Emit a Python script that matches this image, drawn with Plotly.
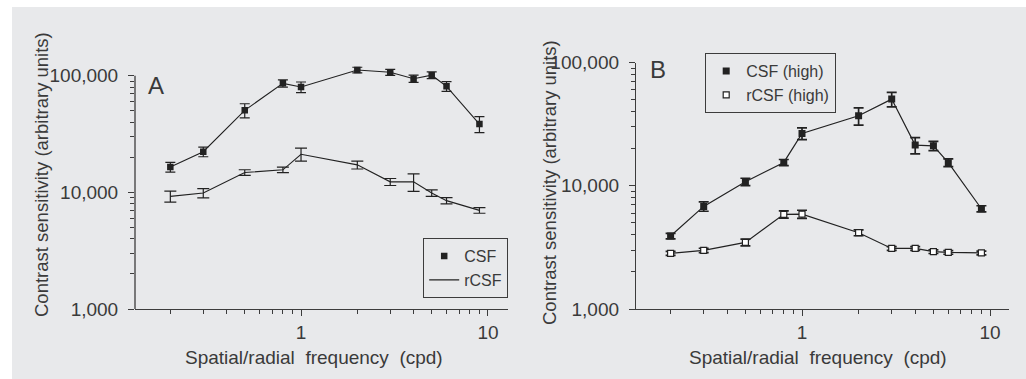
import plotly.graph_objects as go

# ---- data ----
freq = [0.2, 0.3, 0.5, 0.8, 1, 2, 3, 4, 5, 6, 9]

csf_a = [16500, 22300, 50500, 86000, 80000, 112000, 107000, 94300, 101000, 81100, 38500]
csf_a_err = [1600, 2100, 7000, 6200, 8300, 6200, 6300, 6800, 6700, 7700, 6000]
rcsf_a = [9240, 9870, 14800, 15600, 21200, 17200, 12300, 12300, 9870, 8490, 7010]
rcsf_a_err = [1000, 900, 820, 860, 2700, 1350, 850, 2100, 650, 520, 390]

csf_b = [3910, 6800, 10770, 15460, 26570, 36950, 50470, 21370, 21100, 15400, 6510]
csf_b_err = [200, 590, 730, 870, 2900, 5900, 6800, 3200, 1800, 1100, 370]
rcsf_b = [2830, 2990, 3470, 5860, 5880, 4160, 3100, 3100, 2920, 2880, 2850]
rcsf_b_err = [110, 120, 220, 400, 450, 230, 110, 110, 100, 100, 100]

y_tickvals = [1000, 10000, 100000]
y_ticktext = ["1,000", "10,000", "100,000"]
x_tickvals = [1, 10]
x_ticktext = ["1", "10"]

W, H = 1026, 379
FONT = "Liberation Sans"
TXT = "#3a3a3a"
AX = "#3c3c3c"
LINE = "#222222"
BG = "#e8e9eb"
DEC_A = 116.65  # px per decade, panel A

fig = go.Figure()

# ---- Panel A ----
fig.add_trace(go.Scatter(x=freq, y=csf_a, mode="lines", line=dict(color=LINE, width=1.1),
                         showlegend=False, xaxis="x", yaxis="y", hoverinfo="skip"))
fig.add_trace(go.Scatter(x=freq, y=csf_a, mode="markers", name="CSF",
                         marker=dict(symbol="square", size=6.5, color=LINE),
                         error_y=dict(type="data", array=csf_a_err, color=LINE, thickness=1.2, width=5),
                         xaxis="x", yaxis="y", legend="legend"))
fig.add_trace(go.Scatter(x=freq, y=rcsf_a, mode="lines", name="rCSF",
                         line=dict(color=LINE, width=1.1),
                         error_y=dict(type="data", array=rcsf_a_err, color=LINE, thickness=1.2, width=6),
                         xaxis="x", yaxis="y", legend="legend"))

# ---- Panel B ----
fig.add_trace(go.Scatter(x=freq, y=csf_b, mode="lines", line=dict(color=LINE, width=1.2),
                         showlegend=False, xaxis="x2", yaxis="y2", hoverinfo="skip"))
fig.add_trace(go.Scatter(x=freq, y=rcsf_b, mode="lines", line=dict(color=LINE, width=1.2),
                         showlegend=False, xaxis="x2", yaxis="y2", hoverinfo="skip"))
fig.add_trace(go.Scatter(x=freq, y=csf_b, mode="markers", name="CSF (high)",
                         marker=dict(symbol="square", size=7, color=LINE),
                         error_y=dict(type="data", array=csf_b_err, color=LINE, thickness=1.7, width=5),
                         xaxis="x2", yaxis="y2", legend="legend2"))
fig.add_trace(go.Scatter(x=freq, y=rcsf_b, mode="markers", name="rCSF (high)",
                         marker=dict(symbol="square", size=6, color="white", line=dict(color=LINE, width=1.2)),
                         error_y=dict(type="data", array=rcsf_b_err, color=LINE, thickness=1.7, width=5),
                         xaxis="x2", yaxis="y2", legend="legend2"))

def xax(domain, rng):
    return dict(type="log", domain=domain, range=rng, showgrid=False, zeroline=False,
                automargin=False,
                showline=True, linecolor=AX, linewidth=1.3, ticks="outside", ticklen=6,
                tickcolor=AX, tickwidth=1.2, tickvals=x_tickvals, ticktext=x_ticktext,
                tickfont=dict(family=FONT, size=19, color=TXT), ticklabelstandoff=0,
                minor=dict(ticks="outside", ticklen=4, tickcolor=AX, tickwidth=1, dtick="D1"))

def yax(domain, anchor, rng, showline):
    return dict(type="log", domain=domain, range=rng, showgrid=False, zeroline=False,
                automargin=False,
                anchor=anchor, showline=showline, linecolor=AX, linewidth=1.3, ticks="outside",
                ticklen=6, tickcolor=AX, tickwidth=1.2, tickvals=y_tickvals, ticktext=y_ticktext,
                tickfont=dict(family=FONT, size=19, color=TXT), ticklabelstandoff=6,
                minor=dict(ticks="outside", ticklen=4, tickcolor=AX, tickwidth=1, dtick="D1"))

# panel A: range extends a little above 100,000 so the top points show; axis line stops at 100,000
a_top = 5.09
a_dom_top_px = 309 - (a_top - 3) * DEC_A

fig.update_layout(
    width=W, height=H,
    margin=dict(l=0, r=0, t=0, b=0, autoexpand=False),
    paper_bgcolor="white",
    plot_bgcolor="rgba(0,0,0,0)",
    font=dict(family=FONT, size=18, color=TXT),
    xaxis=dict(**xax([135 / W, 508 / W], [-0.888, 1.107]), anchor="y"),
    yaxis=yax([1 - 309 / H, 1 - a_dom_top_px / H], "x", [3, a_top], False),
    xaxis2=dict(**xax([636 / W, 1009 / W], [-0.883, 1.101]), anchor="y2"),
    yaxis2=yax([1 - 309 / H, 1 - 62.5 / H], "x2", [3, 5], True),
    legend=dict(x=508 / W, xanchor="right", y=1 - 238 / H, yanchor="top",
                bgcolor="rgba(0,0,0,0)", bordercolor=AX, borderwidth=1.2,
                font=dict(family=FONT, size=16, color=TXT), tracegroupgap=0),
    legend2=dict(x=705 / W, xanchor="left", y=1 - 53 / H, yanchor="top",
                 bgcolor="rgba(0,0,0,0)", bordercolor=AX, borderwidth=1.2,
                 font=dict(family=FONT, size=16, color=TXT), tracegroupgap=0),
    shapes=[
        dict(type="rect", xref="paper", yref="paper", x0=12 / W, x1=1, y0=0, y1=1 - 7 / H,
             fillcolor=BG, line=dict(width=0), layer="below"),
        dict(type="line", xref="x domain", yref="y", x0=0, x1=0, y0=y_tickvals[0], y1=y_tickvals[-1],
             line=dict(color=AX, width=1.3)),
    ],
    annotations=[
        dict(text="Contrast sensitivity (arbitrary units)", textangle=-90, xref="paper", yref="paper",
             x=42 / W, y=1 - 175 / H, xanchor="center", yanchor="middle", showarrow=False,
             font=dict(size=18.5, color=TXT)),
        dict(text="Contrast sensitivity (arbitrary units)", textangle=-90, xref="paper", yref="paper",
             x=549 / W, y=1 - 183 / H, xanchor="center", yanchor="middle", showarrow=False,
             font=dict(size=18.5, color=TXT)),
        dict(text="Spatial/radial  frequency  (cpd)", xref="paper", yref="paper",
             x=314 / W, y=1 - 357 / H, xanchor="center", yanchor="middle", showarrow=False,
             font=dict(size=19, color=TXT)),
        dict(text="Spatial/radial  frequency  (cpd)", xref="paper", yref="paper",
             x=818 / W, y=1 - 357 / H, xanchor="center", yanchor="middle", showarrow=False,
             font=dict(size=19, color=TXT)),
        dict(text="A", xref="paper", yref="paper", x=156 / W, y=1 - 86 / H,
             xanchor="center", yanchor="middle", showarrow=False, font=dict(size=24, color=TXT)),
        dict(text="B", xref="paper", yref="paper", x=658 / W, y=1 - 69 / H,
             xanchor="center", yanchor="middle", showarrow=False, font=dict(size=24, color=TXT)),
    ],
)

fig.write_html("out.html", config={"displayModeBar": False},
               post_script="document.body.style.margin='0';document.body.style.padding='0';")
